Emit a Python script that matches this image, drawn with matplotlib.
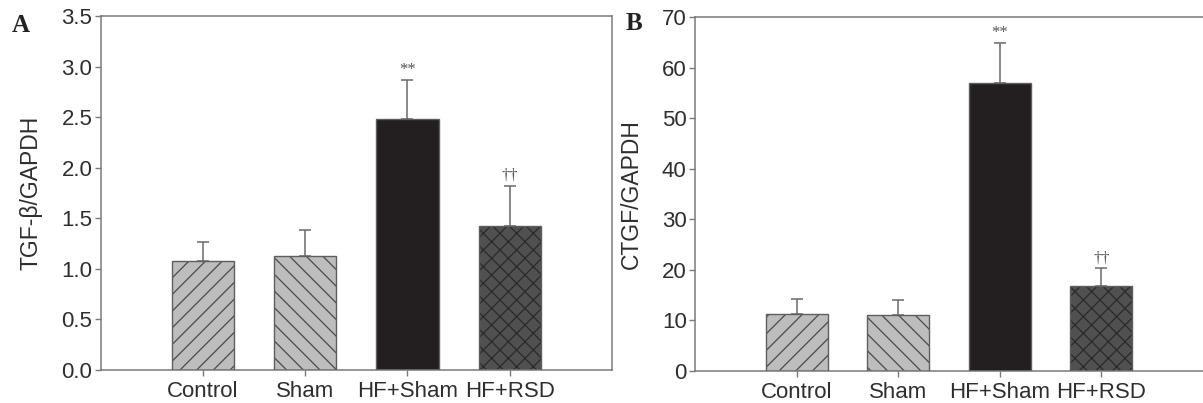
import numpy as np
import matplotlib
matplotlib.use("Agg")
import matplotlib.pyplot as plt

groups = ["Control", "Sham", "HF+Sham", "HF+RSD"]

tgf_mean = [1.08, 1.13, 2.48, 1.42]
tgf_err = [0.19, 0.25, 0.39, 0.40]
tgf_marks = ["", "", "**", "\u2020\u2020"]

ctgf_mean = [11.2, 11.0, 57.0, 16.8]
ctgf_err = [3.1, 3.0, 7.9, 3.5]
ctgf_marks = ["", "", "**", "\u2020\u2020"]

fills = ["#bdbdbd", "#bdbdbd", "#231f20", "#505050"]
hatches = ["//", "\\\\", None, "xx"]
hatch_cols = ["#4a4a4a", "#4a4a4a", "#231f20", "#2a2a2a"]

plt.rcParams["font.family"] = ["Liberation Sans", "DejaVu Sans"]
plt.rcParams["hatch.linewidth"] = 0.9
txt = "#2e2e2e"
spine = "#7a7a7a"

fig = plt.figure(figsize=(12.03, 4.03), dpi=100)
axA = fig.add_axes([0.0837, 0.0819, 0.425, 0.8784])
axB = fig.add_axes([0.5777, 0.0801, 0.4223, 0.8765])


def panel(ax, means, errs, marks, ylim, yticks, ylabel, mark_off, label_x):
    x = np.arange(len(groups))
    for i in range(len(groups)):
        ax.bar(x[i], means[i], width=0.61, color=fills[i], hatch=hatches[i],
               edgecolor=hatch_cols[i], linewidth=0, zorder=2)
        ax.bar(x[i], means[i], width=0.61, fill=False, edgecolor="#5e5e5e", linewidth=1.0, zorder=3)
    ax.errorbar(x, means, yerr=[np.zeros(len(means)), errs], fmt="none", ecolor="#6a6a6a",
                elinewidth=1.1, capsize=4.5, capthick=1.1, zorder=1)
    for i, m in enumerate(marks):
        if m:
            ax.text(x[i], means[i] + errs[i] + mark_off, m, ha="center", va="bottom",
                    fontsize=12, color="#555555", family=["Liberation Serif", "DejaVu Serif"])
    ax.set_xlim(-1, 4)
    ax.set_ylim(*ylim)
    ax.set_yticks(yticks)
    ax.set_xticks(x)
    ax.set_xticklabels(groups)
    ax.set_ylabel(ylabel, fontsize=16.5, color=txt)
    ax.yaxis.set_label_coords(label_x, 0.5)
    ax.tick_params(axis="both", labelsize=16, colors=txt, color=spine, width=1.0)
    ax.tick_params(axis="y", length=4, pad=2)
    ax.tick_params(axis="x", length=4, pad=4)
    for s in ax.spines.values():
        s.set_color(spine)
        s.set_linewidth(1.1)


panel(axA, tgf_mean, tgf_err, tgf_marks, (0, 3.5), np.arange(0, 3.51, 0.5), "TGF-\u03b2/GAPDH", 0.02, -0.114)
axA.set_yticklabels(["%.1f" % v for v in np.arange(0, 3.51, 0.5)])
panel(axB, ctgf_mean, ctgf_err, ctgf_marks, (0, 70), np.arange(0, 71, 10), "CTGF/GAPDH", 0.4, -0.102)
axB.spines["right"].set_visible(False)

fig.text(21 / 1203, 1 - 26 / 403, "A", fontsize=18, fontweight="bold", ha="center", va="center",
         family=["Liberation Serif", "DejaVu Serif"], color="#222222")
fig.text(634 / 1203, 1 - 24 / 403, "B", fontsize=18, fontweight="bold", ha="center", va="center",
         family=["Liberation Serif", "DejaVu Serif"], color="#222222")

fig.savefig("out.png", dpi=100)
